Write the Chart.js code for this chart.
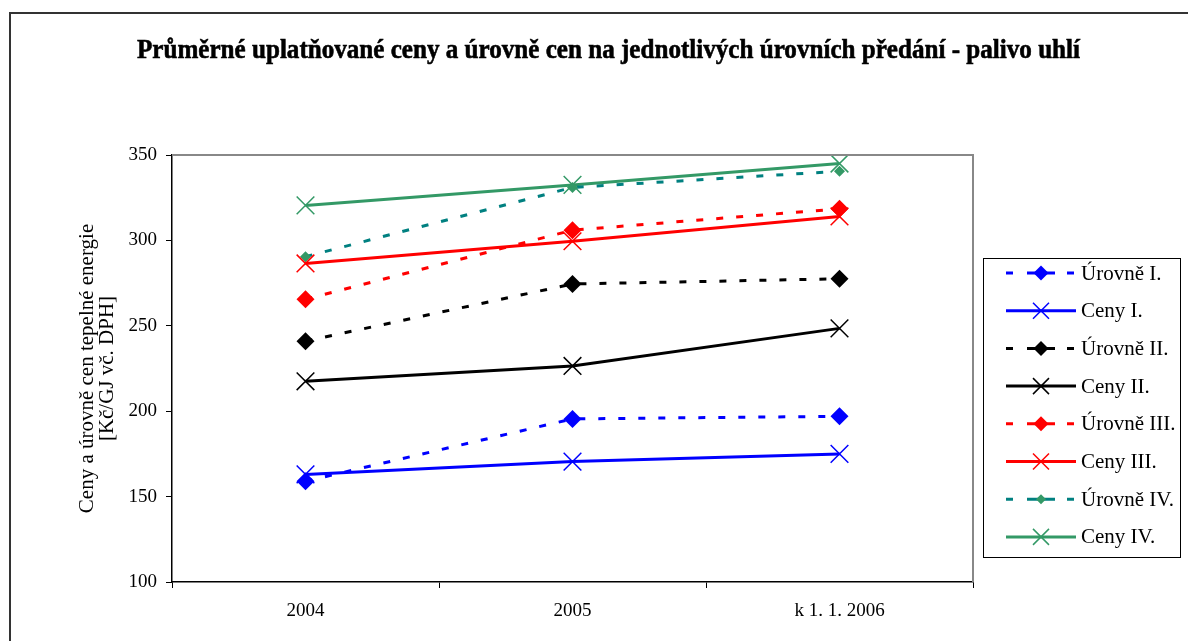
<!DOCTYPE html>
<html>
<head>
<meta charset="utf-8">
<script src="https://cdn.jsdelivr.net/npm/chart.js@4"></script>
<style>
  html, body { margin: 0; padding: 0; background: #fff; }
  #wrap { width: 1188px; height: 641px; }
</style>
</head>
<body>
<div id="wrap"><canvas id="graph" width="1188" height="641"></canvas></div>
<script>
const categories = ["2004", "2005", "k 1. 1. 2006"];
const yTicks = [100, 150, 200, 250, 300, 350];

const urovneI = [159, 195.5, 197];
const cenyI = [163, 170.5, 175];
const urovneII = [241, 274.5, 277.5];
const cenyII = [217.5, 226.5, 248.5];
const urovneIII = [265.5, 306, 318.5];
const cenyIII = [286.5, 299.5, 314];
const urovneIV = [290.5, 331, 340.5];
const cenyIV = [320.5, 332.5, 345];

const chartTitle = "Průměrné uplatňované ceny a úrovně cen na jednotlivých úrovních předání - palivo uhlí";
const yTitle = ["Ceny a úrovně cen tepelné energie", "[Kč/GJ vč. DPH]"];

const SERIF = "'Liberation Serif', 'Times New Roman', serif";
const DASH = [7, 13];

function levelSet(label, data, color, markColor, size) {
  return {
    label: label,
    data: data,
    borderColor: color,
    backgroundColor: markColor,
    borderWidth: 3,
    borderDash: DASH,
    borderCapStyle: "butt",
    pointStyle: "rectRot",
    pointRadius: size,
    pointBorderWidth: 0,
    pointBackgroundColor: markColor,
    pointBorderColor: markColor,
    tension: 0,
  };
}

function priceSet(label, data, color) {
  return {
    label: label,
    data: data,
    borderColor: color,
    backgroundColor: color,
    borderWidth: 3,
    pointStyle: "crossRot",
    pointRadius: 12.5,
    pointBorderWidth: 1.5,
    pointBorderColor: color,
    tension: 0,
  };
}

const datasets = [
  levelSet("Úrovně I.", urovneI, "#0000ff", "#0000ff", 9),
  priceSet("Ceny I.", cenyI, "#0000ff"),
  levelSet("Úrovně II.", urovneII, "#000000", "#000000", 9),
  priceSet("Ceny II.", cenyII, "#000000"),
  levelSet("Úrovně III.", urovneIII, "#ff0000", "#ff0000", 9),
  priceSet("Ceny III.", cenyIII, "#ff0000"),
  levelSet("Úrovně IV.", urovneIV, "#008080", "#339966", 5.5),
  priceSet("Ceny IV.", cenyIV, "#339966"),
];

// frame, plot border, title and legend are drawn by hand
const decorPlugin = {
  id: "decor",
  beforeDraw(chart) {
    const ctx = chart.ctx;
    ctx.save();
    ctx.fillStyle = "#fff";
    ctx.fillRect(0, 0, chart.width, chart.height);
    ctx.strokeStyle = "#333";
    ctx.lineWidth = 2;
    ctx.strokeRect(10, 13, 1300, 800);
    ctx.restore();
  },
  afterDatasetsDraw(chart) {
    const ctx = chart.ctx;
    const a = chart.chartArea;
    ctx.save();
    ctx.strokeStyle = "#888";
    ctx.lineWidth = 2;
    ctx.beginPath();
    ctx.moveTo(a.left, a.top);
    ctx.lineTo(a.right, a.top);
    ctx.lineTo(a.right, a.bottom);
    ctx.stroke();
    ctx.restore();
  },
  afterDraw(chart) {
    const ctx = chart.ctx;
    ctx.save();
    // title, squeezed like the original condensed bold face
    ctx.font = "bold 28px " + SERIF;
    ctx.fillStyle = "#000";
    ctx.strokeStyle = "#000";
    ctx.lineWidth = 0.6;
    ctx.textBaseline = "middle";
    ctx.textAlign = "left";
    const w = ctx.measureText(chartTitle).width;
    const target = 943;
    ctx.translate(137, 51);
    ctx.scale(target / w, 1);
    ctx.fillText(chartTitle, 0, 0);
    ctx.strokeText(chartTitle, 0, 0);
    ctx.restore();

    // legend
    ctx.save();
    ctx.strokeStyle = "#000";
    ctx.lineWidth = 1;
    ctx.strokeRect(983.5, 258.5, 197, 299);
    ctx.font = "21px " + SERIF;
    ctx.textBaseline = "middle";
    ctx.textAlign = "left";
    chart.data.datasets.forEach((ds, i) => {
      const y = 273 + i * 37.7;
      ctx.strokeStyle = ds.borderColor;
      ctx.lineWidth = 3;
      ctx.lineCap = "butt";
      ctx.beginPath();
      if (ds.borderDash) {
        [[1006, 1013], [1027, 1055], [1067, 1074]].forEach((s) => {
          ctx.moveTo(s[0], y);
          ctx.lineTo(s[1], y);
        });
      } else {
        ctx.moveTo(1006, y);
        ctx.lineTo(1076, y);
      }
      ctx.stroke();
      const cx = 1041;
      if (ds.pointStyle === "rectRot") {
        const r = ds.pointRadius === 5.5 ? 5 : 7.5;
        ctx.fillStyle = ds.pointBackgroundColor;
        ctx.beginPath();
        ctx.moveTo(cx - r, y);
        ctx.lineTo(cx, y - r);
        ctx.lineTo(cx + r, y);
        ctx.lineTo(cx, y + r);
        ctx.closePath();
        ctx.fill();
      } else {
        const d = 8;
        ctx.lineWidth = 1.5;
        ctx.beginPath();
        ctx.moveTo(cx - d, y - d);
        ctx.lineTo(cx + d, y + d);
        ctx.moveTo(cx + d, y - d);
        ctx.lineTo(cx - d, y + d);
        ctx.stroke();
      }
      ctx.fillStyle = "#000";
      ctx.fillText(ds.label, 1081, y + 1);
    });
    ctx.restore();
  },
};

new Chart(document.getElementById("graph").getContext("2d"), {
  type: "line",
  data: { labels: categories, datasets: datasets },
  options: {
    responsive: false,
    animation: false,
    devicePixelRatio: 1,
    layout: { padding: { top: 155, left: 0, right: 215, bottom: 0 } },
    plugins: {
      legend: { display: false },
      tooltip: { enabled: false },
      title: { display: false },
    },
    scales: {
      x: {
        type: "category",
        offset: true,
        afterFit: (s) => { s.height = 59; },
        grid: {
          offset: true,
          drawOnChartArea: false,
          drawTicks: true,
          tickLength: 6,
          color: "#000",
        },
        border: { display: true, color: "#000", width: 1.5 },
        ticks: {
          color: "#000",
          padding: 12,
          maxRotation: 0,
          font: { family: SERIF, size: 19 },
        },
      },
      y: {
        min: 100,
        max: 350,
        afterFit: (s) => { s.width = 172; },
        afterBuildTicks: (s) => { s.ticks = yTicks.map((v) => ({ value: v })); },
        grid: {
          drawOnChartArea: false,
          drawTicks: true,
          tickLength: 6,
          color: "#000",
        },
        border: { display: true, color: "#000", width: 1.5 },
        ticks: {
          color: "#000",
          padding: 9,
          font: { family: SERIF, size: 19 },
        },
        title: {
          display: true,
          text: yTitle,
          color: "#000",
          font: { family: SERIF, size: 21, lineHeight: 0.96 },
          padding: { top: 77, bottom: 0 },
        },
      },
    },
  },
  plugins: [decorPlugin],
});
</script>
</body>
</html>
